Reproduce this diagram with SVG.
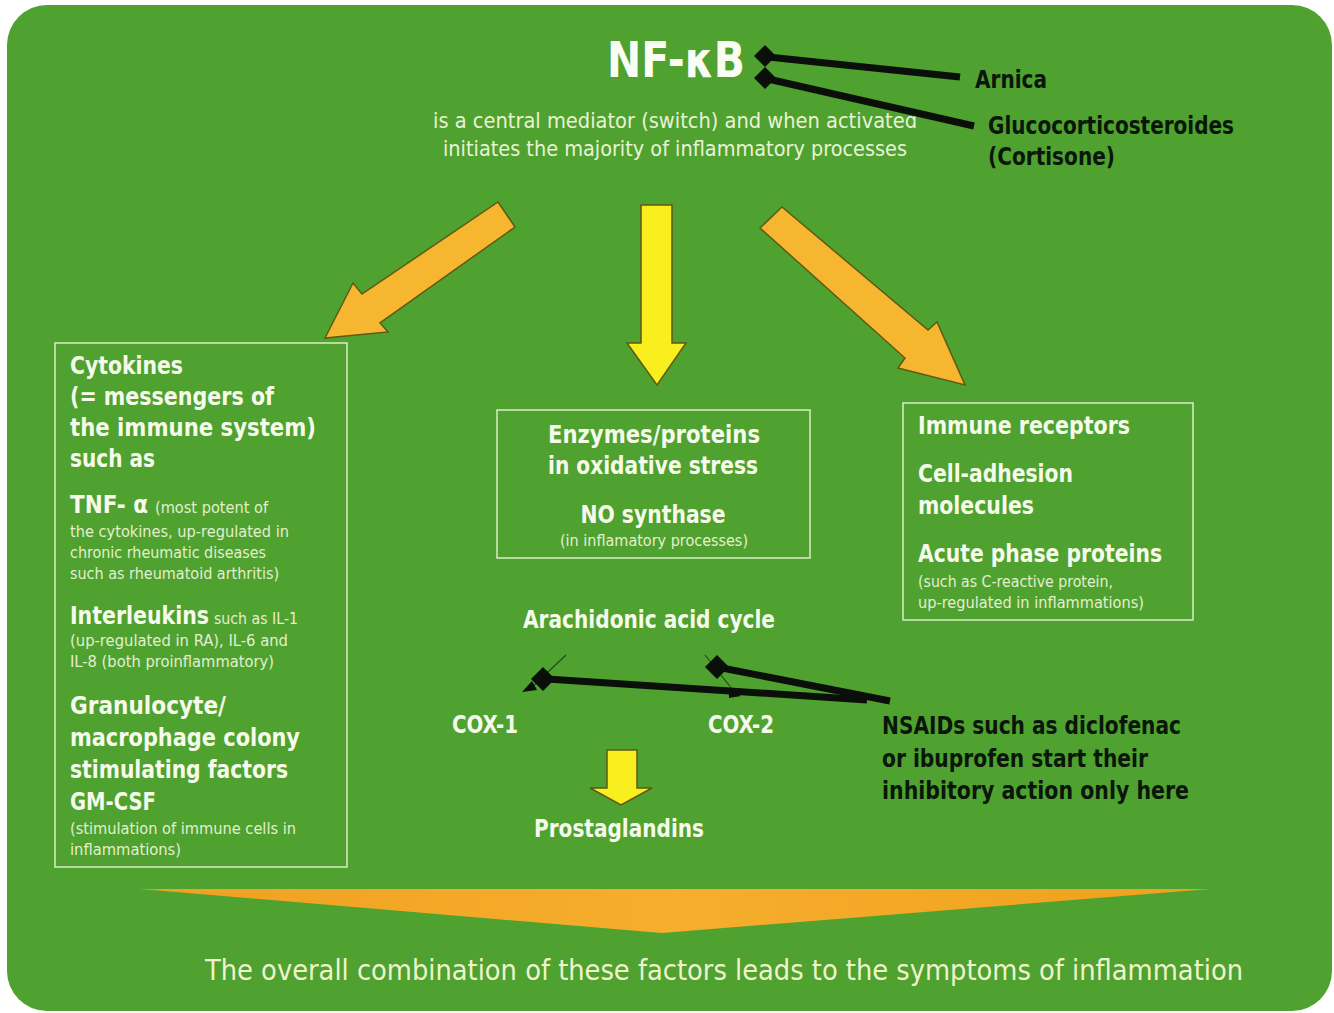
<svg xmlns="http://www.w3.org/2000/svg" width="1334" height="1013" viewBox="0 0 1334 1013">
<defs>
<linearGradient id="tri" x1="0" y1="0" x2="1" y2="0">
<stop offset="0" stop-color="#f0a020"/>
<stop offset="0.5" stop-color="#f6ae2c"/>
<stop offset="1" stop-color="#efa01e"/>
</linearGradient>
<style>
.t{font-family:"Liberation Sans Narrow","DejaVu Sans Condensed","Liberation Sans",sans-serif;}
.h{font-weight:bold;font-size:24px;fill:#f6faea;}
.s{font-size:16px;fill:#e4efcf;}
.m{font-size:22px;fill:#e9f2d6;}
.d{font-weight:bold;font-size:24px;fill:#0b160a;}
.box{fill:none;stroke:#d9eec4;stroke-width:1.5;}
.oa{fill:#f7b630;stroke:#5d5a14;stroke-width:1.5;stroke-linejoin:miter;}
.ya{fill:#f9ef1f;stroke:#5d5a14;stroke-width:1.5;}
.inh{stroke:#0b0f0a;stroke-width:7;fill:none;stroke-linecap:butt;}
.dia{fill:#0b0f0a;}
.tick{stroke:#1b4e16;stroke-width:1.2;}
</style>
</defs>
<rect x="0" y="0" width="1334" height="1013" fill="#ffffff"/>
<rect id="background" x="7" y="5" width="1325" height="1006" rx="40" ry="40" fill="#4fa22f"/>

<g id="nfkb" class="t">
<text x="676" y="77" text-anchor="middle" font-weight="bold" font-size="50" fill="#fafdf2" textLength="138" lengthAdjust="spacingAndGlyphs">NF-κB</text>
<text class="m" x="675" y="128" text-anchor="middle" textLength="484" lengthAdjust="spacingAndGlyphs">is a central mediator (switch) and when activated</text>
<text class="m" x="675" y="156" text-anchor="middle" textLength="464" lengthAdjust="spacingAndGlyphs">initiates the majority of inflammatory processes</text>
</g>

<g id="arnica" class="t">
<text class="d" x="975" y="88" textLength="72" lengthAdjust="spacingAndGlyphs">Arnica</text>
</g>
<g id="glucocorticosteroides" class="t">
<text class="d" x="988" y="134" textLength="246" lengthAdjust="spacingAndGlyphs">Glucocorticosteroides</text>
<text class="d" x="988" y="165" textLength="127" lengthAdjust="spacingAndGlyphs">(Cortisone)</text>
</g>

<g id="cytokines" class="t">
<rect class="box" x="55" y="343" width="292" height="524"/>
<text class="h" x="70" y="374" textLength="113" lengthAdjust="spacingAndGlyphs">Cytokines</text>
<text class="h" x="70" y="405" textLength="204" lengthAdjust="spacingAndGlyphs">(= messengers of</text>
<text class="h" x="70" y="436" textLength="246" lengthAdjust="spacingAndGlyphs">the immune system)</text>
<text class="h" x="70" y="467" textLength="85" lengthAdjust="spacingAndGlyphs">such as</text>
<text class="h" x="70" y="513" textLength="78" lengthAdjust="spacingAndGlyphs">TNF- α</text>
<text class="s" x="155" y="513" textLength="113" lengthAdjust="spacingAndGlyphs">(most potent of</text>
<text class="s" x="70" y="537" textLength="219" lengthAdjust="spacingAndGlyphs">the cytokines, up-regulated in</text>
<text class="s" x="70" y="558" textLength="196" lengthAdjust="spacingAndGlyphs">chronic rheumatic diseases</text>
<text class="s" x="70" y="579" textLength="209" lengthAdjust="spacingAndGlyphs">such as rheumatoid arthritis)</text>
<text class="h" x="70" y="624" textLength="139" lengthAdjust="spacingAndGlyphs">Interleukins</text>
<text class="s" x="214" y="624" textLength="84" lengthAdjust="spacingAndGlyphs">such as IL-1</text>
<text class="s" x="70" y="646" textLength="218" lengthAdjust="spacingAndGlyphs">(up-regulated in RA), IL-6 and</text>
<text class="s" x="70" y="667" textLength="204" lengthAdjust="spacingAndGlyphs">IL-8 (both proinflammatory)</text>
<text class="h" x="70" y="714" textLength="156" lengthAdjust="spacingAndGlyphs">Granulocyte/</text>
<text class="h" x="70" y="746" textLength="230" lengthAdjust="spacingAndGlyphs">macrophage colony</text>
<text class="h" x="70" y="778" textLength="218" lengthAdjust="spacingAndGlyphs">stimulating factors</text>
<text class="h" x="70" y="810" textLength="86" lengthAdjust="spacingAndGlyphs">GM-CSF</text>
<text class="s" x="70" y="834" textLength="226" lengthAdjust="spacingAndGlyphs">(stimulation of immune cells in</text>
<text class="s" x="70" y="855" textLength="111" lengthAdjust="spacingAndGlyphs">inflammations)</text>
</g>

<g id="enzymes" class="t">
<rect class="box" x="497" y="410" width="313" height="148"/>
<text class="h" x="654" y="443" text-anchor="middle" textLength="212" lengthAdjust="spacingAndGlyphs">Enzymes/proteins</text>
<text class="h" x="653" y="474" text-anchor="middle" textLength="210" lengthAdjust="spacingAndGlyphs">in oxidative stress</text>
<text class="h" x="653" y="523" text-anchor="middle" textLength="145" lengthAdjust="spacingAndGlyphs">NO synthase</text>
<text class="s" x="654" y="546" text-anchor="middle" textLength="188" lengthAdjust="spacingAndGlyphs">(in inflamatory processes)</text>
</g>

<g id="immune" class="t">
<rect class="box" x="903" y="403" width="290" height="217"/>
<text class="h" x="918" y="434" textLength="212" lengthAdjust="spacingAndGlyphs">Immune receptors</text>
<text class="h" x="918" y="482" textLength="155" lengthAdjust="spacingAndGlyphs">Cell-adhesion</text>
<text class="h" x="918" y="514" textLength="116" lengthAdjust="spacingAndGlyphs">molecules</text>
<text class="h" x="918" y="562" textLength="244" lengthAdjust="spacingAndGlyphs">Acute phase proteins</text>
<text class="s" x="918" y="587" textLength="195" lengthAdjust="spacingAndGlyphs">(such as C-reactive protein,</text>
<text class="s" x="918" y="608" textLength="226" lengthAdjust="spacingAndGlyphs">up-regulated in inflammations)</text>
</g>

<g id="arachidonic" class="t">
<text class="h" x="649" y="628" text-anchor="middle" textLength="252" lengthAdjust="spacingAndGlyphs">Arachidonic acid cycle</text>
</g>
<g id="cox1" class="t">
<text class="h" x="452" y="733" textLength="66" lengthAdjust="spacingAndGlyphs">COX-1</text>
</g>
<g id="cox2" class="t">
<text class="h" x="708" y="733" textLength="66" lengthAdjust="spacingAndGlyphs">COX-2</text>
</g>
<g id="prostaglandins" class="t">
<text class="h" x="534" y="837" textLength="170" lengthAdjust="spacingAndGlyphs">Prostaglandins</text>
</g>
<g id="nsaids" class="t">
<text class="d" x="882" y="734" textLength="299" lengthAdjust="spacingAndGlyphs">NSAIDs such as diclofenac</text>
<text class="d" x="882" y="767" textLength="266" lengthAdjust="spacingAndGlyphs">or ibuprofen start their</text>
<text class="d" x="882" y="799" textLength="307" lengthAdjust="spacingAndGlyphs">inhibitory action only here</text>
</g>

<g id="summary" class="t">
<text x="205" y="980" font-size="28" fill="#eef4cc" textLength="1038" lengthAdjust="spacingAndGlyphs">The overall combination of these factors leads to the symptoms of inflammation</text>
</g>

<g id="connectors">
<!-- NF-kB outputs -->
<polygon class="oa" points="498,202 515,227 380,323 388,332 325,338 353,283 362,294"/>
<polygon class="ya" points="641,205 672,205 672,343 686,343 657,385 627,343 641,343"/>
<polygon class="oa" points="782,207 760,228 905,358 898,368 965,385 937,322 928,330"/>
<!-- inhibitors on NF-kB -->
<line class="inh" x1="768" y1="57" x2="960" y2="77"/>
<polygon class="dia" points="765,45 776,56 765,67 754,56"/>
<line class="inh" x1="768" y1="79" x2="974" y2="126"/>
<polygon class="dia" points="765,67 776,78 765,89 754,78"/>
<!-- NSAIDs inhibitors on COX -->
<line class="tick" x1="566" y1="655" x2="531" y2="688"/>
<line class="tick" x1="705" y1="655" x2="736" y2="694"/>
<line class="inh" x1="547" y1="679" x2="867" y2="700"/>
<polygon class="dia" points="543,667 555,679 543,691 531,679"/>
<polygon class="dia" points="532,681 522,692 537,690"/>
<polygon class="dia" points="729,690 741,696 729,698"/>
<line class="inh" x1="717" y1="667" x2="890" y2="701"/>
<polygon class="dia" points="717,655 729,667 717,679 705,667"/>
<!-- Prostaglandins arrow -->
<polygon class="ya" points="607,750 637,750 637,788 652,788 621,805 590,788 607,788"/>
<!-- summary triangle -->
<polygon points="140,889 1210,889 662,933" fill="url(#tri)"/>
</g>
</svg>
